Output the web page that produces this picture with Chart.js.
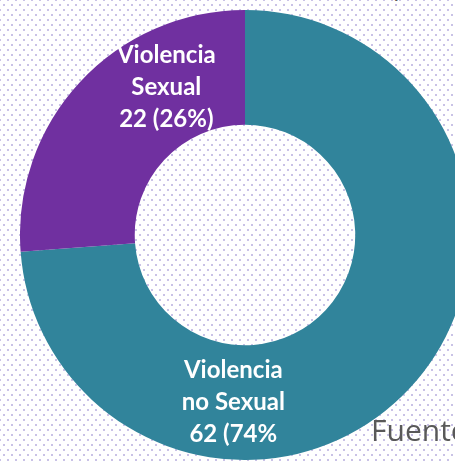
<!DOCTYPE html>
<html>
<head>
<meta charset="utf-8">
<script src="https://cdn.jsdelivr.net/npm/chart.js@4"></script>
<style>
  html, body { margin: 0; padding: 0; }
  body {
    width: 455px; height: 461px; overflow: hidden; position: relative;
    background-color: #ffffff;
    background-image:
      radial-gradient(circle, #c9c2e6 1px, transparent 1.4px),
      radial-gradient(circle, #c9c2e6 1px, transparent 1.4px);
    background-size: 8px 10px, 8px 10px;
    background-position: 0 0, 4px 5px;
  }
  #wrap { position: absolute; left: 20px; top: 10px; width: 450px; height: 450px; }
  .txt { position: absolute; font-family: "Open Sans", sans-serif; color: #595959; white-space: nowrap; }
</style>
</head>
<body>
<span class="txt" style="left:393px; top:-33px; font-size:26px;">p</span>
<div id="wrap"><canvas id="donut"></canvas></div>
<span class="txt" style="left:371px; top:409px; font-size:30px; font-weight:500;">Fuente</span>
<script>
const categories = ['Violencia no Sexual', 'Violencia Sexual'];
const values = [62, 22];
const labelLines = [
    ['Violencia', 'no Sexual', '62 (74%'],
    ['Violencia', 'Sexual', '22 (26%)']
];
const colors = ['#31849b', '#7030a0'];
// angle (degrees clockwise from top) at which each label sits
const labelAngles = [184, 332];

const sliceLabels = {
    id: 'sliceLabels',
    afterDatasetsDraw(chart) {
        const ctx = chart.ctx;
        const meta = chart.getDatasetMeta(0);
        ctx.save();
        ctx.fillStyle = '#ffffff';
        ctx.font = 'bold 24px Lato, sans-serif';
        ctx.textAlign = 'center';
        ctx.textBaseline = 'middle';
        meta.data.forEach((arc, i) => {
            const r = (arc.innerRadius + arc.outerRadius) / 2;
            const a = labelAngles[i] * Math.PI / 180;
            const x = arc.x + r * Math.sin(a);
            const y = arc.y - r * Math.cos(a);
            const lines = labelLines[i];
            const lh = 32;
            lines.forEach((t, j) => {
                ctx.fillText(t, x, y + (j - (lines.length - 1) / 2) * lh);
            });
        });
        ctx.restore();
    }
};

new Chart(document.getElementById('donut'), {
    type: 'doughnut',
    data: {
        labels: categories,
        datasets: [{
            data: values,
            backgroundColor: colors,
            borderWidth: 0
        }]
    },
    options: {
        responsive: true,
        maintainAspectRatio: false,
        animation: false,
        cutout: '49%',
        layout: { padding: 0 },
        plugins: { legend: { display: false }, tooltip: { enabled: false } }
    },
    plugins: [sliceLabels]
});
</script>
</body>
</html>
